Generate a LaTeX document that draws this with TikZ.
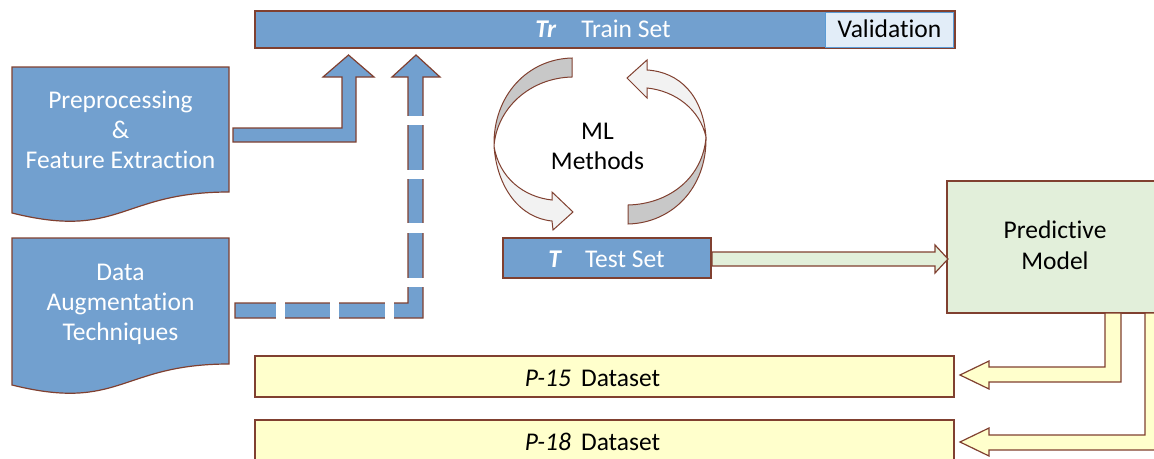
\documentclass[tikz,border=0pt]{standalone}
\usepackage{fontspec}
\setmainfont{Carlito}[Ligatures=NoCommon]
\definecolor{boxblue}{RGB}{114,160,207}
\definecolor{edge}{RGB}{128,64,48}
\definecolor{valfill}{RGB}{226,237,248}
\definecolor{valedge}{RGB}{91,155,213}
\definecolor{modelgreen}{RGB}{226,239,218}
\definecolor{datafill}{RGB}{255,255,204}
\definecolor{ribbondark}{RGB}{200,200,200}
\definecolor{ribbonlight}{RGB}{242,242,242}
\begin{document}
\begin{tikzpicture}[x=1pt, y=-1pt,
  font=\fontsize{25.5}{31}\selectfont,
  outline/.style={draw=edge, line width=1.2pt, line join=miter},
  bluebox/.style={outline, fill=boxblue},
  greenbox/.style={outline, fill=modelgreen},
  yellowbox/.style={outline, fill=datafill},
  darkribbon/.style={outline, fill=ribbondark, line width=1pt},
  lightribbon/.style={outline, fill=ribbonlight, line width=1pt},
  txt/.style={anchor=base, inner sep=0pt},
  whitetxt/.style={txt, text=white},
  gap/.style={fill=white, draw=none}]
\useasboundingbox (0,0) rectangle (1154,458);
\clip (0,0) rectangle (1154,458);

% training data bar with validation part
\path[bluebox] (255,11) rectangle (955,48);
\path[fill=valfill, draw=valedge, line width=0.8pt] (825,12.5) rectangle (953.5,47);
\node[whitetxt] (trlabel) at (603,37) {\textbf{\textit{Tr}}\hspace{25pt}Train Set};
\node[txt] (vallabel) at (889.5,37) {Validation};

% document shapes on the left
\path[bluebox] (12,67) -- (229,67) -- (229,192)
  .. controls (120.5,192) and (120.5,240) .. (12,213) -- cycle;
\node[whitetxt] (pre1) at (120.5,108) {Preprocessing};
\node[whitetxt] (pre2) at (120.5,138) {\&};
\node[whitetxt] (pre3) at (120.5,168) {Feature Extraction};

\path[bluebox] (12,238) -- (229,238) -- (229,364)
  .. controls (120.5,364) and (120.5,412) .. (12,385) -- cycle;
\node[whitetxt] (aug1) at (120.5,280) {Data};
\node[whitetxt] (aug2) at (120.5,310) {Augmentation};
\node[whitetxt] (aug3) at (120.5,340) {Techniques};

% bent arrow: features into the train set
\path[bluebox] (233,128) -- (342,128) -- (342,77) -- (323,77) -- (348.5,55)
  -- (374,77) -- (356,77) -- (356,142) -- (233,142) -- cycle;

% dashed bent arrow: augmented data into the train set
\path[bluebox] (235,303) -- (408,303) -- (408,77) -- (392,77) -- (416,55)
  -- (440,77) -- (423,77) -- (423,318) -- (235,318) -- cycle;
\foreach \ya/\yb in {116/125, 170/179, 223/233, 278/287}
  \path[gap] (404,\ya) rectangle (427,\yb);
\foreach \xa/\xb in {276/285, 330/339, 385/394}
  \path[gap] (\xa,299) rectangle (\xb,322);

% circular arrows around the ML methods
\path[darkribbon] (572,58) .. controls (528,59) and (493,95) .. (494,146)
  .. controls (497,108) and (530,78) .. (572,77) -- cycle;
\path[lightribbon] (494,146) .. controls (497,188) and (520,218) .. (552,221)
  -- (553,230) -- (573,212) -- (552,192) -- (552,200)
  .. controls (524,197) and (499,178) .. (494,146) -- cycle;
\path[darkribbon] (628,224) .. controls (672,223) and (707,188) .. (706,137)
  .. controls (703,177) and (670,204) .. (628,205) -- cycle;
\path[lightribbon] (706,137) .. controls (703,96) and (680,72) .. (647,70)
  -- (647,60) -- (627,78) -- (647,98) -- (647,88)
  .. controls (676,91) and (700,110) .. (706,137) -- cycle;
\node[txt] (ml1) at (597.5,139) {ML};
\node[txt] (ml2) at (597.5,169) {Methods};

% test set
\path[bluebox] (503,238) rectangle (711,278);
\node[whitetxt] (tlabel) at (606.5,267) {\textbf{\textit{T}}\hspace{23pt}Test Set};

% predictive model
\path[greenbox] (947,181) rectangle (1163,313);
\node[txt] (pm1) at (1055,238) {Predictive};
\node[txt] (pm2) at (1055,269) {Model};
\path[greenbox] (712,252) -- (935,252) -- (935,245) -- (948,259) -- (935,273)
  -- (935,266) -- (712,266) -- cycle;

% external datasets
\path[yellowbox] (255,356) rectangle (954,397);
\node[txt] (p15) at (592.5,386) {\textit{P-15}\hspace{10pt}Dataset};
\path[yellowbox] (255,420) rectangle (954,472);
\node[txt] (p18) at (592.5,450) {\textit{P-18}\hspace{10pt}Dataset};

% model output arrows into the datasets
\path[yellowbox] (1105,313) -- (1105,367) -- (989,367) -- (989,361) -- (960,375)
  -- (989,389) -- (989,382) -- (1121,382) -- (1121,313) -- cycle;
\path[yellowbox] (1145,313) -- (1145,435) -- (989,435) -- (989,428) -- (960,442)
  -- (989,456) -- (989,450) -- (1161,450) -- (1161,313) -- cycle;
\end{tikzpicture}
\end{document}
